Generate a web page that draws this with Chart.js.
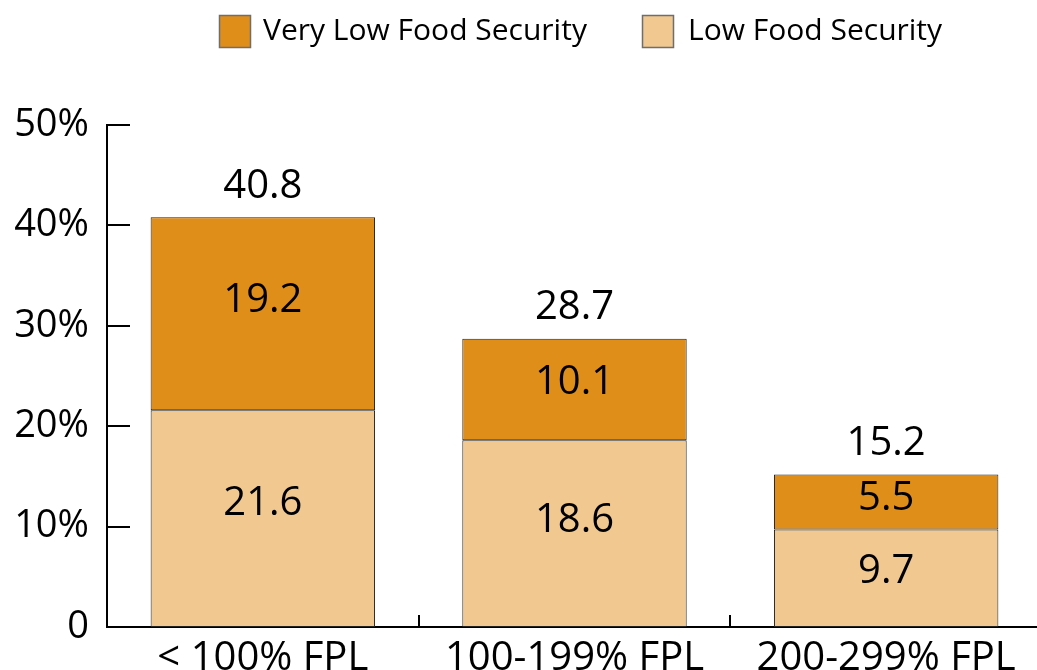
<!DOCTYPE html>
<html>
<head>
<meta charset="utf-8">
<script src="https://cdn.jsdelivr.net/npm/chart.js@4.4.1/dist/chart.umd.min.js"></script>
<style>
  html, body { margin: 0; padding: 0; background: #fff; overflow: hidden; }
  #wrap { width: 1037px; height: 670px; overflow: hidden; }
</style>
</head>
<body>
<div id="wrap"><canvas id="c" width="1045" height="670"></canvas></div>
<script>
const categories = ['< 100% FPL', '100-199% FPL', '200-299% FPL'];
const lowFoodSecurity = [21.6, 18.6, 9.7];
const veryLowFoodSecurity = [19.2, 10.1, 5.5];
const totals = [40.8, 28.7, 15.2];
const yTickValues = [0, 10, 20, 30, 40, 50];

const FONT = "'Open Sans', 'Noto Sans', sans-serif";
const DARK = '#E08E1A';
const LIGHT = '#F0C890';

const insideTicks = {
  id: 'insideTicks',
  afterDraw(chart) {
    const ctx = chart.ctx, x = chart.scales.x, y = chart.scales.y;
    ctx.save();
    ctx.strokeStyle = '#000';
    ctx.lineWidth = 2;
    ctx.beginPath();
    yTickValues.forEach(v => {
      const py = Math.round(y.getPixelForValue(v));
      if (v === 0) return;
      ctx.moveTo(chart.chartArea.left, py);
      ctx.lineTo(chart.chartArea.left + 23, py);
    });
    for (let i = 1; i < categories.length; i++) {
      const px = Math.round((x.getPixelForValue(i - 1) + x.getPixelForValue(i)) / 2);
      ctx.moveTo(px, chart.chartArea.bottom);
      ctx.lineTo(px, chart.chartArea.bottom - 12);
    }
    ctx.stroke();
    ctx.restore();
  }
};

const valueLabels = {
  id: 'valueLabels',
  afterDatasetsDraw(chart) {
    const ctx = chart.ctx;
    ctx.save();
    ctx.fillStyle = '#000';
    ctx.font = '40px ' + FONT;
    ctx.textAlign = 'center';
    ctx.textBaseline = 'middle';
    chart.data.datasets.forEach((ds, di) => {
      const meta = chart.getDatasetMeta(di);
      meta.data.forEach((el, i) => {
        const p = el.getProps(['x', 'y', 'base'], true);
        const h = Math.abs(p.base - p.y);
        const cy = (p.y + p.base) / 2 - h * 0.07;
        ctx.fillText(ds.data[i].toFixed(1), p.x, cy);
      });
    });
    const top = chart.getDatasetMeta(chart.data.datasets.length - 1);
    top.data.forEach((el, i) => {
      const p = el.getProps(['x', 'y'], true);
      ctx.fillText(totals[i].toFixed(1), p.x, p.y - 31);
    });
    ctx.restore();
  }
};

const customLegend = {
  id: 'customLegend',
  afterDraw(chart) {
    const ctx = chart.ctx;
    const items = [
      { label: chart.data.datasets[1].label, color: chart.data.datasets[1].backgroundColor, bx: 219, tx: 263 },
      { label: chart.data.datasets[0].label, color: chart.data.datasets[0].backgroundColor, bx: 642, tx: 688 }
    ];
    ctx.save();
    items.forEach(it => {
      ctx.fillStyle = it.color;
      ctx.fillRect(it.bx, 15, 32, 33);
      ctx.strokeStyle = '#6e6e6e';
      ctx.lineWidth = 1.5;
      ctx.strokeRect(it.bx + 0.5, 15.5, 31, 32);
      ctx.fillStyle = '#000';
      ctx.font = '30px ' + FONT;
      ctx.textAlign = 'left';
      ctx.textBaseline = 'middle';
      ctx.fillText(it.label, it.tx, 31);
    });
    ctx.restore();
  }
};

new Chart(document.getElementById('c'), {
  type: 'bar',
  data: {
    labels: categories,
    datasets: [
      { label: 'Low Food Security', data: lowFoodSecurity, backgroundColor: LIGHT,
        borderColor: '#222', borderWidth: 1, borderSkipped: false },
      { label: 'Very Low Food Security', data: veryLowFoodSecurity, backgroundColor: DARK,
        borderColor: '#222', borderWidth: 1, borderSkipped: false }
    ]
  },
  options: {
    responsive: false,
    animation: false,
    layout: { padding: { top: 125, right: 3, left: 0, bottom: 0 } },
    datasets: { bar: { categoryPercentage: 1, barPercentage: 0.72 } },
    plugins: { legend: { display: false }, tooltip: { enabled: false } },
    scales: {
      x: {
        stacked: true,
        grid: { display: false },
        border: { display: true, color: '#000', width: 2 },
        ticks: { color: '#000', font: { family: FONT, size: 40 }, padding: 0, maxRotation: 0 },
        afterFit(s) { s.height = 43; }
      },
      y: {
        stacked: true,
        min: 0, max: 50,
        afterBuildTicks(s) { s.ticks = yTickValues.map(v => ({ value: v })); },
        grid: { display: false },
        border: { display: true, color: '#000', width: 2 },
        ticks: {
          color: '#000', font: { family: FONT, size: 38 }, padding: 10,
          callback: v => v === 0 ? '0' : v + '%'
        },
        afterFit(s) { s.width = 107; }
      }
    }
  },
  plugins: [insideTicks, valueLabels, customLegend]
});
</script>
</body>
</html>
